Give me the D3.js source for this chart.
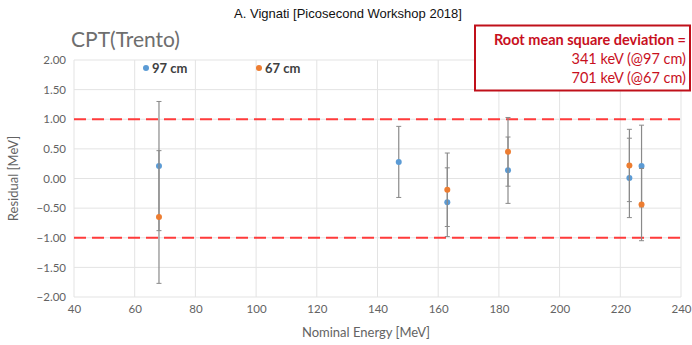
<!DOCTYPE html>
<html>
<head>
<meta charset="utf-8">
<script src="https://cdn.jsdelivr.net/npm/d3@7"></script>
<style>
  body { margin: 0; background: #fff; }
  svg { display: block; }
</style>
</head>
<body>
<script>
// Residuals of reconstructed energy, two detector distances
const energies97 = [68, 147, 163, 183, 223, 227];
const residuals97 = [0.21, 0.28, -0.40, 0.14, 0.01, 0.21];
const errors97 = [1.09, 0.60, 0.58, 0.56, 0.67, 0.69];

const energies67 = [68, 163, 183, 223, 227];
const residuals67 = [-0.65, -0.19, 0.45, 0.22, -0.44];
const errors67 = [1.12, 0.62, 0.58, 0.61, 0.61];

const xTicks = [40, 60, 80, 100, 120, 140, 160, 180, 200, 220, 240];
const yTicks = [-2, -1.5, -1, -0.5, 0, 0.5, 1, 1.5, 2];
const limitLines = [1, -1];
const seriesNames = ["97 cm", "67 cm"];
const rmsLines = ["Root mean square deviation =", "341 keV (@97 cm)", "701 keV (@67 cm)"];

const W = 692, H = 345;
const plot = { left: 74, right: 681, top: 60, bottom: 297 };
const font = "Lato, 'Open Sans', sans-serif";
const gray = "#636363";
const colors = ["#5b9bd5", "#ed7d31"];

const svg = d3.select("body").append("svg").attr("width", W).attr("height", H);

const x = d3.scaleLinear().domain([40, 240]).range([plot.left, plot.right]);
const y = d3.scaleLinear().domain([-2, 2]).range([plot.bottom, plot.top]);

// gridlines
svg.append("g").selectAll("line").data(yTicks).join("line")
  .attr("x1", plot.left).attr("x2", plot.right)
  .attr("y1", d => y(d)).attr("y2", d => y(d))
  .attr("stroke", "#e3e3e3").attr("stroke-width", 1);
svg.append("g").selectAll("line").data(xTicks).join("line")
  .attr("x1", d => x(d)).attr("x2", d => x(d))
  .attr("y1", plot.top).attr("y2", plot.bottom)
  .attr("stroke", "#e3e3e3").attr("stroke-width", 1);

// axes (labels only, Excel style)
const yAxis = d3.axisLeft(y).tickValues(yTicks).tickSize(0).tickPadding(8).tickFormat(d3.format(".2f"));
const gy = svg.append("g").attr("transform", `translate(${plot.left},0)`).call(yAxis);
gy.select(".domain").remove();
gy.selectAll("text").attr("fill", gray).style("font-family", font).style("font-size", "11.5px");

const xAxis = d3.axisBottom(x).tickValues(xTicks).tickSize(0).tickPadding(8);
const gx = svg.append("g").attr("transform", `translate(0,${plot.bottom})`).call(xAxis);
gx.select(".domain").remove();
gx.selectAll("text").attr("fill", gray).style("font-family", font).style("font-size", "11.5px");

// dashed limits at ±1 MeV
svg.append("g").selectAll("line").data(limitLines).join("line")
  .attr("x1", plot.left).attr("x2", plot.right)
  .attr("y1", d => y(d)).attr("y2", d => y(d))
  .attr("stroke", "#ff3b3b").attr("stroke-width", 2)
  .attr("stroke-dasharray", "12,6");

// error bars and points
function drawSeries(xs, vals, errs, color) {
  const data = xs.map((e, i) => ({ e, v: vals[i], err: errs[i] }));
  const g = svg.append("g");
  g.selectAll("line.bar").data(data).join("line").attr("class", "bar")
    .attr("x1", d => x(d.e)).attr("x2", d => x(d.e))
    .attr("y1", d => y(d.v + d.err)).attr("y2", d => y(d.v - d.err))
    .attr("stroke", "#8a8a8a").attr("stroke-width", 1.2);
  [1, -1].forEach(s => {
    g.selectAll(null).data(data).join("line")
      .attr("x1", d => x(d.e) - 2.5).attr("x2", d => x(d.e) + 2.5)
      .attr("y1", d => y(d.v + s * d.err)).attr("y2", d => y(d.v + s * d.err))
      .attr("stroke", "#8a8a8a").attr("stroke-width", 1);
  });
  g.selectAll("circle").data(data).join("circle")
    .attr("cx", d => x(d.e)).attr("cy", d => y(d.v)).attr("r", 3)
    .attr("fill", color);
}
drawSeries(energies97, residuals97, errors97, colors[0]);
drawSeries(energies67, residuals67, errors67, colors[1]);

// legend
const legendX = [146, 259];
seriesNames.forEach((name, i) => {
  svg.append("circle").attr("cx", legendX[i]).attr("cy", 68).attr("r", 3).attr("fill", colors[i]);
  svg.append("text").attr("x", legendX[i] + 6).attr("y", 72.5)
    .text(name).attr("fill", "#404040").style("font-family", font)
    .style("font-size", "13px").style("font-weight", "bold");
});

// titles
svg.append("text").attr("x", 348).attr("y", 18).attr("text-anchor", "middle")
  .text("A. Vignati [Picosecond Workshop 2018]")
  .style("font-family", "'Liberation Sans', Arial, sans-serif").style("font-size", "13px").attr("fill", "#111");
svg.append("text").attr("x", 71).attr("y", 47)
  .text("CPT(Trento)").attr("fill", "#6e6e6e")
  .style("font-family", font).style("font-size", "21px");
svg.append("text").attr("x", 366).attr("y", 337).attr("text-anchor", "middle")
  .text("Nominal Energy [MeV]").attr("fill", gray).style("font-family", font).style("font-size", "13px");
svg.append("text").attr("transform", `translate(18,${y(0)}) rotate(-90)`).attr("text-anchor", "middle")
  .text("Residual [MeV]").attr("fill", gray).style("font-family", font).style("font-size", "13px");

// RMS box
svg.append("rect").attr("x", 475).attr("y", 25.5).attr("width", 215).attr("height", 65)
  .attr("fill", "#fff").attr("stroke", "#c0101a").attr("stroke-width", 2);
rmsLines.forEach((t, i) => {
  svg.append("text").attr("x", 686).attr("y", 44.5 + i * 19).attr("text-anchor", "end")
    .text(t).attr("fill", "#c8101e").style("font-family", font)
    .style("font-size", "14.5px").style("font-weight", i === 0 ? "bold" : "normal");
});
</script>
</body>
</html>
